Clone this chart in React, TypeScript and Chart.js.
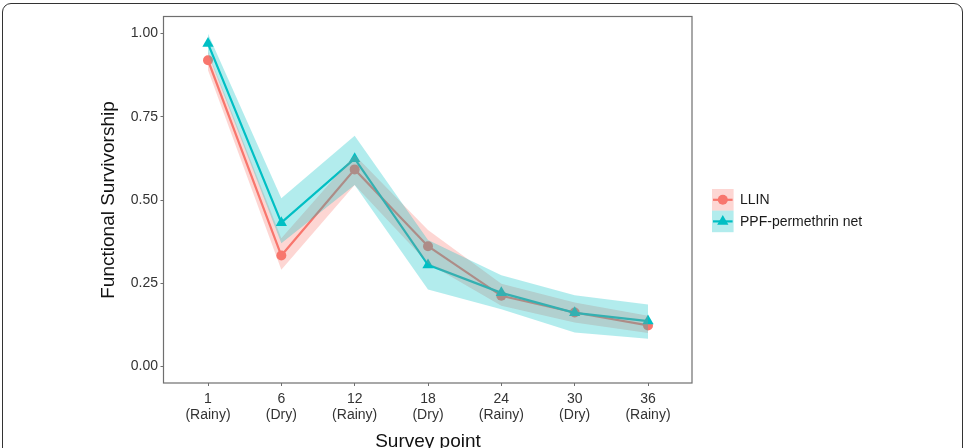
import React, { useEffect, useRef } from 'react';
import { Chart, registerables } from 'chart.js';

Chart.register(...registerables);

// Survey points (months since distribution) and the season of each round
const surveyMonths = ['1', '6', '12', '18', '24', '30', '36'];
const seasons = ['(Rainy)', '(Dry)', '(Rainy)', '(Dry)', '(Rainy)', '(Dry)', '(Rainy)'];
const yTicks = [0, 0.25, 0.5, 0.75, 1.0];

// LLIN functional survivorship with 95% confidence band
const llinSurvivorship = [0.92, 0.333, 0.592, 0.361, 0.212, 0.162, 0.123];
const llinLower = [0.89, 0.29, 0.545, 0.31, 0.182, 0.132, 0.1];
const llinUpper = [0.945, 0.385, 0.635, 0.41, 0.248, 0.192, 0.152];

// PPF-permethrin net functional survivorship with 95% confidence band
const ppfSurvivorship = [0.97, 0.432, 0.624, 0.305, 0.221, 0.161, 0.136];
const ppfLower = [0.94, 0.37, 0.545, 0.231, 0.172, 0.102, 0.083];
const ppfUpper = [1.0, 0.505, 0.693, 0.38, 0.274, 0.214, 0.186];

const seriesNames = ['LLIN', 'PPF-permethrin net'];

const LLIN_COLOR = '#F8766D';
const PPF_COLOR = '#00BFC4';
const LLIN_FILL = 'rgba(248, 118, 109, 0.3)';
const PPF_FILL = 'rgba(0, 191, 196, 0.3)';
const FONT = "'Liberation Sans', Arial, Helvetica, sans-serif";

const toPoints = (values: number[]) => values.map((v, i) => ({ x: i + 1, y: v }));

const bandStyle = {
  pointRadius: 0,
  borderWidth: 0,
  borderColor: 'rgba(0,0,0,0)',
  tension: 0,
};

// Full rectangle around the plotting panel
const panelBorder = {
  id: 'panelBorder',
  afterDraw(chart: any) {
    const { ctx, chartArea } = chart;
    ctx.save();
    ctx.strokeStyle = '#6f6f6f';
    ctx.lineWidth = 1.2;
    ctx.strokeRect(
      Math.round(chartArea.left) - 0.5,
      Math.round(chartArea.top) - 0.5,
      Math.round(chartArea.right - chartArea.left) + 0.5,
      Math.round(chartArea.bottom - chartArea.top) + 0.5
    );
    ctx.restore();
  },
};

// Legend keys: band colour, line and marker, as in the plot
const ribbonLegend = {
  id: 'ribbonLegend',
  afterDraw(chart: any) {
    const { ctx } = chart;
    const keyX = 712;
    const keySize = 21.6;
    const firstTop = 189;
    const items = [
      { name: seriesNames[0], fill: LLIN_FILL, color: LLIN_COLOR, marker: 'circle' },
      { name: seriesNames[1], fill: PPF_FILL, color: PPF_COLOR, marker: 'triangle' },
    ];
    ctx.save();
    items.forEach((item, i) => {
      const top = firstTop + i * keySize;
      const cy = top + keySize / 2;
      const cx = keyX + keySize / 2;
      ctx.fillStyle = item.fill;
      ctx.fillRect(keyX, top, keySize, keySize);
      ctx.strokeStyle = item.color;
      ctx.lineWidth = 2.2;
      ctx.beginPath();
      ctx.moveTo(keyX + 1, cy);
      ctx.lineTo(keyX + keySize - 1, cy);
      ctx.stroke();
      ctx.fillStyle = item.color;
      ctx.beginPath();
      if (item.marker === 'circle') {
        ctx.arc(cx, cy, 5, 0, Math.PI * 2);
      } else {
        const r = 6.5;
        ctx.moveTo(cx, cy - r);
        ctx.lineTo(cx + r * Math.sin((2 * Math.PI) / 3), cy - r * Math.cos((2 * Math.PI) / 3));
        ctx.lineTo(cx + r * Math.sin((4 * Math.PI) / 3), cy - r * Math.cos((4 * Math.PI) / 3));
        ctx.closePath();
      }
      ctx.fill();
      ctx.fillStyle = '#1a1a1a';
      ctx.font = `14px ${FONT}`;
      ctx.textAlign = 'left';
      ctx.textBaseline = 'middle';
      ctx.fillText(item.name, 740, cy + 0.5);
    });
    ctx.restore();
  },
};

export default function App() {
  const canvasRef = useRef<HTMLCanvasElement | null>(null);

  useEffect(() => {
    const canvas = canvasRef.current;
    if (!canvas) return;
    Chart.defaults.font.family = FONT;

    const chart = new Chart(canvas, {
      type: 'line',
      data: {
        datasets: [
          // 0-1: LLIN band
          { label: 'LLIN upper', data: toPoints(llinUpper), fill: '+1', backgroundColor: LLIN_FILL, order: 2, ...bandStyle },
          { label: 'LLIN lower', data: toPoints(llinLower), fill: false, order: 2, ...bandStyle },
          // 2-3: PPF band
          { label: 'PPF upper', data: toPoints(ppfUpper), fill: '+1', backgroundColor: PPF_FILL, order: 1, ...bandStyle },
          { label: 'PPF lower', data: toPoints(ppfLower), fill: false, order: 1, ...bandStyle },
          // 4-5: estimates
          {
            label: seriesNames[0],
            data: toPoints(llinSurvivorship),
            borderColor: LLIN_COLOR,
            backgroundColor: LLIN_COLOR,
            borderWidth: 2.2,
            pointStyle: 'circle',
            pointRadius: 5,
            pointBorderWidth: 0,
            fill: false,
            tension: 0,
            order: 4,
          },
          {
            label: seriesNames[1],
            data: toPoints(ppfSurvivorship),
            borderColor: PPF_COLOR,
            backgroundColor: PPF_COLOR,
            borderWidth: 2.2,
            pointStyle: 'triangle',
            pointRadius: 6.5,
            pointBorderWidth: 0,
            fill: false,
            tension: 0,
            order: 3,
          },
        ],
      },
      options: {
        responsive: false,
        animation: false,
        events: [],
        layout: { padding: { left: 97, top: 17, right: 273, bottom: 0 } },
        plugins: {
          legend: { display: false },
          tooltip: { enabled: false },
          title: { display: false },
        },
        scales: {
          x: {
            type: 'linear',
            min: 0.4,
            max: 7.6,
            afterBuildTicks: (axis: any) => {
              axis.ticks = surveyMonths.map((_, i) => ({ value: i + 1 }));
            },
            afterFit: (axis: any) => {
              axis.height = 87;
            },
            ticks: {
              autoSkip: false,
              maxRotation: 0,
              padding: 6,
              color: '#333333',
              font: { size: 14, lineHeight: 1.08 },
              callback: (_v: any, i: number) => [surveyMonths[i], seasons[i]],
            },
            grid: { drawOnChartArea: false, drawTicks: true, tickLength: 3, color: '#6f6f6f', lineWidth: 1 },
            border: { display: false },
            title: {
              display: true,
              text: 'Survey point',
              color: '#111111',
              font: { size: 19 },
              padding: { top: 0, bottom: 16.6 },
            },
          },
          y: {
            type: 'linear',
            min: -0.05,
            max: 1.05,
            afterBuildTicks: (axis: any) => {
              axis.ticks = yTicks.map((v) => ({ value: v }));
            },
            afterFit: (axis: any) => {
              axis.width = 67;
            },
            ticks: {
              padding: 2.5,
              color: '#333333',
              font: { size: 14 },
              callback: (v: any) => Number(v).toFixed(2),
            },
            grid: { drawOnChartArea: false, drawTicks: true, tickLength: 3.5, color: '#6f6f6f', lineWidth: 1 },
            border: { display: false },
            title: {
              display: true,
              text: 'Functional Survivorship',
              color: '#111111',
              font: { size: 19 },
              padding: 0,
            },
          },
        },
      },
      plugins: [panelBorder, ribbonLegend],
    } as any);

    return () => chart.destroy();
  }, []);

  return (
    <div
      style={{
        position: 'fixed',
        left: 0,
        top: 0,
        width: 965,
        height: 448,
        overflow: 'hidden',
        background: '#ffffff',
      }}
    >
      <canvas ref={canvasRef} width={965} height={470} style={{ position: 'absolute', left: 0, top: 0 }} />
      <div
        style={{
          position: 'absolute',
          left: 2,
          top: 3,
          width: 961,
          height: 520,
          boxSizing: 'border-box',
          border: '1.3px solid #333333',
          borderRadius: 9,
          pointerEvents: 'none',
        }}
      />
    </div>
  );
}
